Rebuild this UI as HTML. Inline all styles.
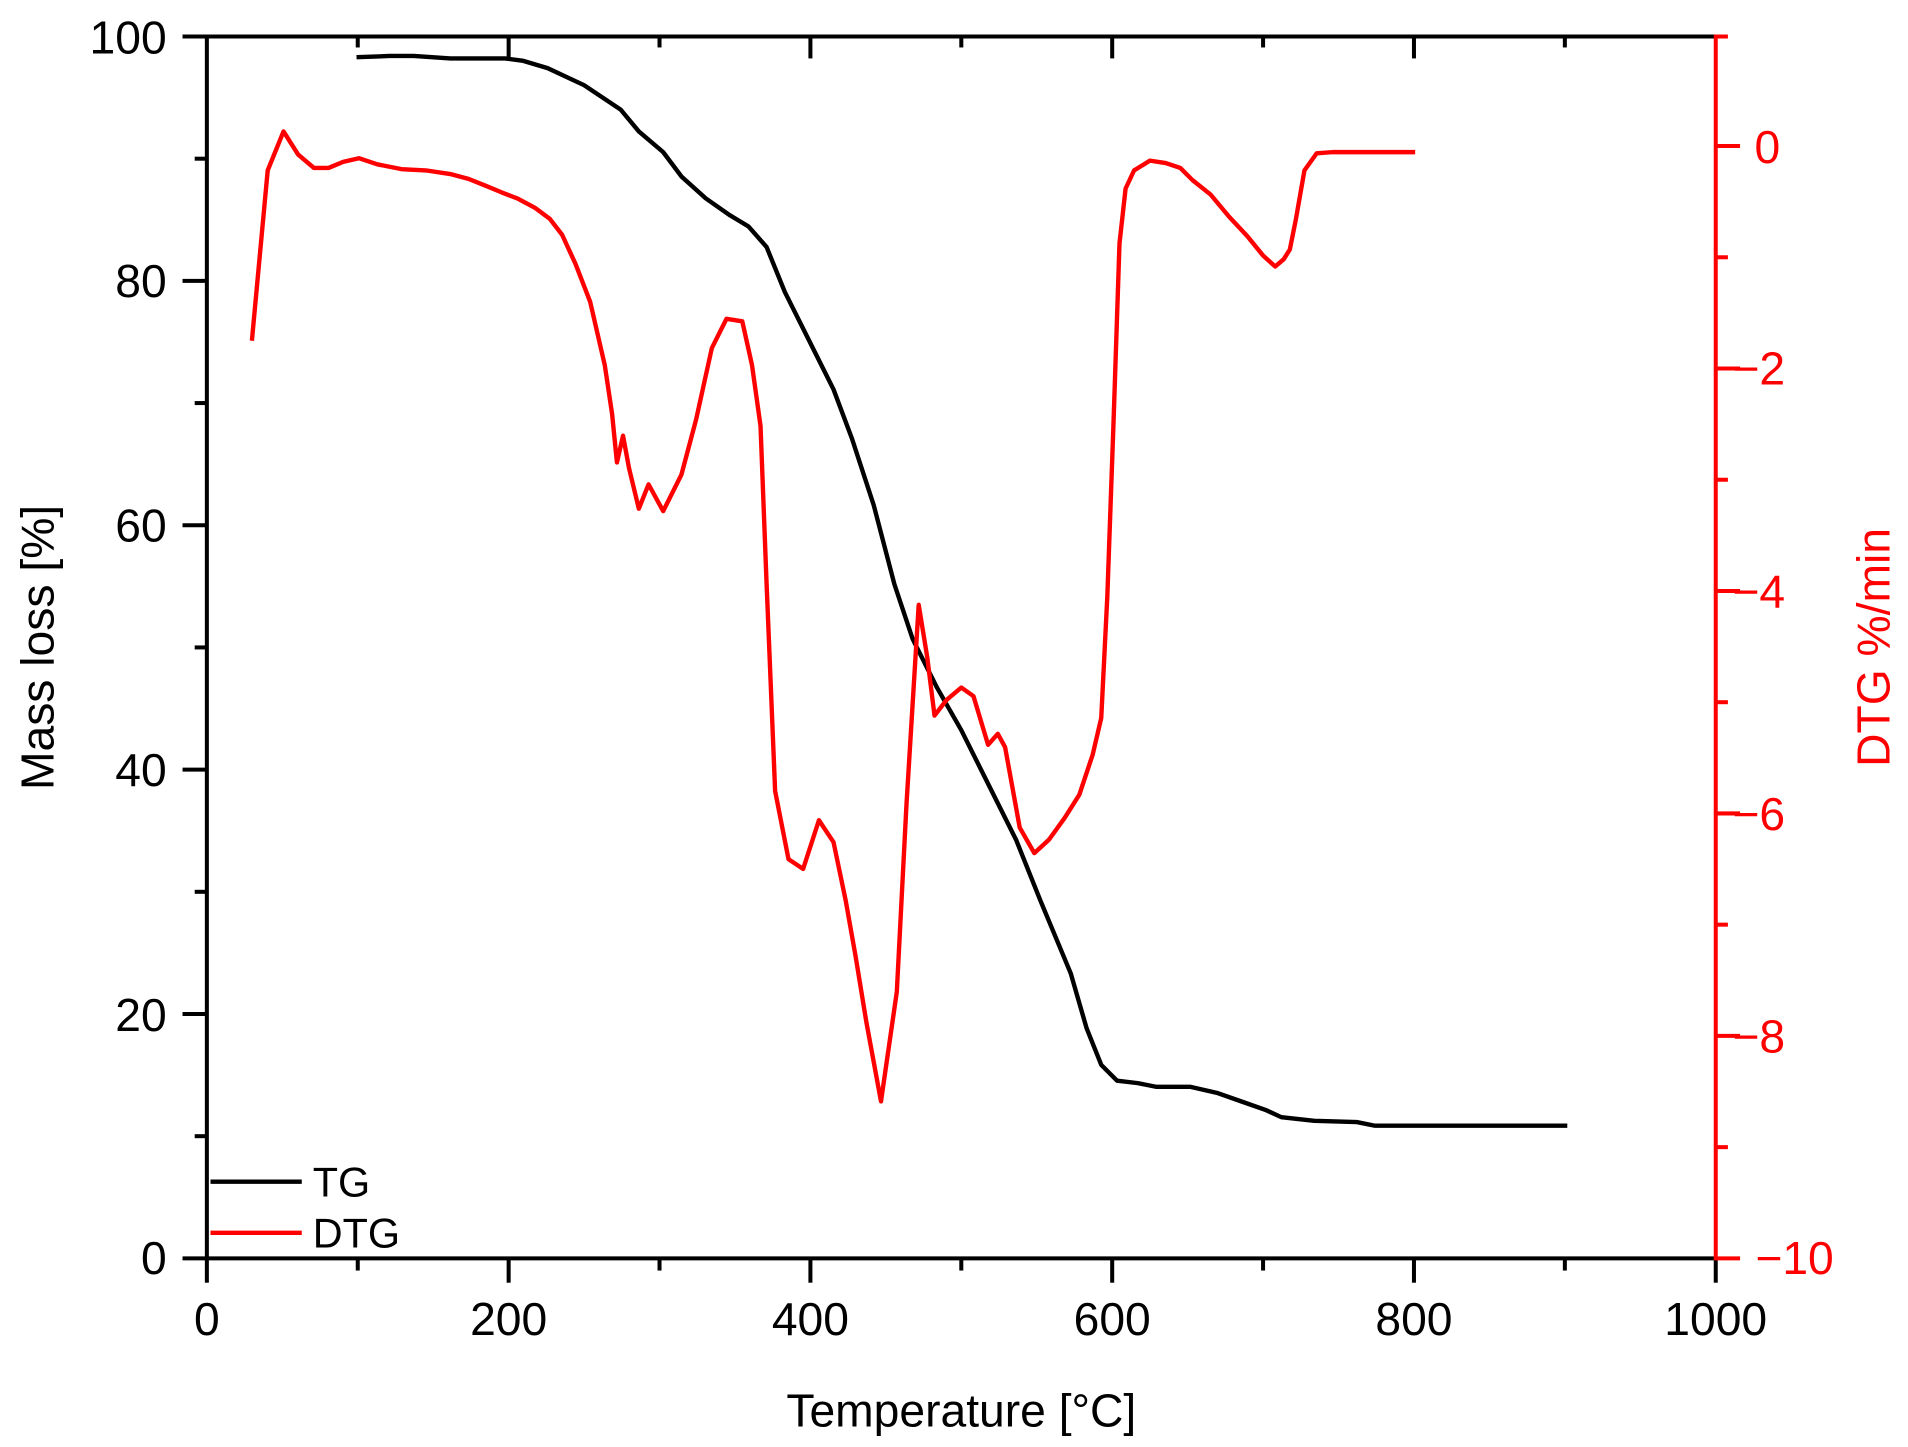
<!DOCTYPE html>
<html><head><meta charset="utf-8"><style>html,body{margin:0;padding:0;background:#fff}svg{display:block}</style></head>
<body>
<svg width="1908" height="1447" viewBox="0 0 1568 1189" preserveAspectRatio="none" xmlns="http://www.w3.org/2000/svg" font-family="Liberation Sans, Arial, sans-serif">
<rect width="1568" height="1189" fill="#fff"/>
<line x1="170" y1="30" x2="1410" y2="30" stroke="#000" stroke-width="3.3"/>
<line x1="170" y1="28.5" x2="170" y2="1035.5" stroke="#000" stroke-width="3.3"/>
<line x1="150" y1="1034" x2="1410" y2="1034" stroke="#000" stroke-width="3.3"/>
<g stroke="#000" stroke-width="3.3">
<line x1="170" y1="1034" x2="170" y2="1054"/><line x1="418" y1="1034" x2="418" y2="1054"/><line x1="666" y1="1034" x2="666" y2="1054"/><line x1="914" y1="1034" x2="914" y2="1054"/><line x1="1162" y1="1034" x2="1162" y2="1054"/><line x1="1410" y1="1034" x2="1410" y2="1054"/>
<line x1="294" y1="1034" x2="294" y2="1044"/><line x1="542" y1="1034" x2="542" y2="1044"/><line x1="790" y1="1034" x2="790" y2="1044"/><line x1="1038" y1="1034" x2="1038" y2="1044"/><line x1="1286" y1="1034" x2="1286" y2="1044"/>
<line x1="418" y1="30" x2="418" y2="48"/><line x1="666" y1="30" x2="666" y2="48"/><line x1="914" y1="30" x2="914" y2="48"/><line x1="1162" y1="30" x2="1162" y2="48"/>
<line x1="294" y1="30" x2="294" y2="39"/><line x1="542" y1="30" x2="542" y2="39"/><line x1="790" y1="30" x2="790" y2="39"/><line x1="1038" y1="30" x2="1038" y2="39"/><line x1="1286" y1="30" x2="1286" y2="39"/>
<line x1="150" y1="30" x2="170" y2="30"/><line x1="150" y1="230.8" x2="170" y2="230.8"/><line x1="150" y1="431.6" x2="170" y2="431.6"/><line x1="150" y1="632.4" x2="170" y2="632.4"/><line x1="150" y1="833.2" x2="170" y2="833.2"/>
<line x1="160" y1="130.4" x2="170" y2="130.4"/><line x1="160" y1="331.2" x2="170" y2="331.2"/><line x1="160" y1="532" x2="170" y2="532"/><line x1="160" y1="732.8" x2="170" y2="732.8"/><line x1="160" y1="933.6" x2="170" y2="933.6"/>
</g>
<g font-size="38" fill="#000">
<g text-anchor="end"><text x="137" y="44">100</text><text x="137" y="244">80</text><text x="137" y="445">60</text><text x="137" y="646">40</text><text x="137" y="847">20</text><text x="137" y="1047">0</text></g>
<g text-anchor="middle"><text x="170" y="1097">0</text><text x="418" y="1097">200</text><text x="666" y="1097">400</text><text x="914" y="1097">600</text><text x="1162" y="1097">800</text><text x="1410" y="1097">1000</text></g>
<text x="790" y="1172" text-anchor="middle">Temperature [°C]</text>
<text transform="translate(44,532) rotate(-90)" text-anchor="middle">Mass loss [%]</text>
</g>
<g stroke="#f00" stroke-width="3.3">
<line x1="1410" y1="28.5" x2="1410" y2="1035.5"/>
<line x1="1410" y1="30" x2="1420" y2="30"/>
<line x1="1410" y1="120" x2="1430" y2="120"/><line x1="1410" y1="302.8" x2="1430" y2="302.8"/><line x1="1410" y1="485.6" x2="1430" y2="485.6"/><line x1="1410" y1="668.4" x2="1430" y2="668.4"/><line x1="1410" y1="851.2" x2="1430" y2="851.2"/><line x1="1410" y1="1034" x2="1430" y2="1034"/>
<line x1="1410" y1="211.4" x2="1420" y2="211.4"/><line x1="1410" y1="394.2" x2="1420" y2="394.2"/><line x1="1410" y1="577" x2="1420" y2="577"/><line x1="1410" y1="759.8" x2="1420" y2="759.8"/><line x1="1410" y1="942.6" x2="1420" y2="942.6"/>
</g>
<g font-size="38" fill="#f00" text-anchor="end">
<text x="1463" y="134">0</text><text x="1467" y="316">−2</text><text x="1467" y="499">−4</text><text x="1467" y="682">−6</text><text x="1467" y="865">−8</text><text x="1507" y="1047">−10</text>
<text transform="translate(1553,532) rotate(-90)" text-anchor="middle">DTG %/min</text>
</g>
<polyline fill="none" stroke="#000" stroke-width="3.6" stroke-linejoin="round" points="293,47 320,46 340,46 370,48 415,48 430,50 450,56 480,70 510,90 525,108 545,125 560,145 580,163 600,177 615,186 630,203 645,240 665,280 685,320 700,360 718,415 735,480 750,525 770,565 790,600 810,640 835,690 855,740 880,800 893,845 905,875 918,888 935,890 950,893 978,893 1000,898 1020,905 1040,912 1053,918 1080,921 1115,922 1130,925 1288,925"/>
<polyline fill="none" stroke="#f00" stroke-width="3.6" stroke-linejoin="round" points="207,280 220,140 233,108 245,127 258,138 270,138 282,133 295,130 310,135 330,139 350,140 370,143 385,147 400,153 412,158 425,163 440,171 452,180 462,193 473,217 485,248 497,300 503,340 507,380 512,358 517,385 525,418 533,398 545,420 560,390 572,345 585,286 597,262 610,264 618,300 625,350 630,480 637,650 648,706 660,714 673,674 685,692 695,740 703,785 712,840 724,905 737,815 745,660 755,497 762,540 768,588 778,575 790,565 800,572 812,612 820,603 826,614 838,680 850,701 862,690 875,672 887,653 898,620 905,590 910,490 915,350 920,200 925,155 932,140 945,132 958,134 970,138 980,148 995,160 1010,178 1025,194 1038,210 1048,219 1055,213 1060,205 1065,180 1072,140 1082,126 1095,125 1163,125"/>
<line x1="173" y1="971" x2="248" y2="971" stroke="#000" stroke-width="3.6"/>
<line x1="173" y1="1013" x2="248" y2="1013" stroke="#f00" stroke-width="3.6"/>
<g font-size="34" fill="#000"><text x="257" y="983">TG</text><text x="257" y="1025">DTG</text></g>
</svg>
</body></html>
